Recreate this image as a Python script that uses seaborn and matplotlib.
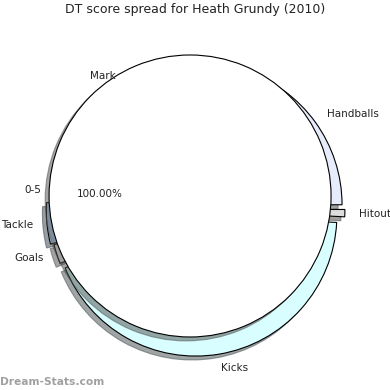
import matplotlib
matplotlib.use("Agg")
import numpy as np
import matplotlib.pyplot as plt
import seaborn as sns

# DT points per stat, in the order the pie walks round (from just under 3 o'clock)
categories = ["Hitout", "Handballs", "Mark", "0-5", "Tackle", "Goals", "Kicks"]
dt_points = [15, 360, 485, 40, 85, 40, 775]
explode = [0.064, 0.054, 0.0, 0.0, 0.054, 0.03, 0.042]
colours = ["#dddddd", "#e6ecfb", "#ffffff", "#ffffff", "#afcdef", "#f2f2f2", "#d8feff"]

# white front disc that covers the middle of the pie
disc_value = [1]

sns.set_theme(style="white")
plt.rcParams["font.family"] = ["DejaVu Sans"]

fig = plt.figure(figsize=(3.9, 3.9), dpi=100)
ax = fig.add_axes([0, 0, 1, 1])

edge = {"edgecolor": "black", "linewidth": 0.8}
txt = {"fontsize": 7.5, "color": "#222222"}

# back pie sits a little down/right of the front disc
shift = 0.1 * np.array([np.cos(np.radians(-70)), np.sin(np.radians(-70))])

ax.pie(dt_points, labels=categories, explode=explode, colors=colours,
       startangle=-3, shadow=True, labeldistance=1.1, center=tuple(shift),
       wedgeprops=edge, textprops=txt)

ax.pie(disc_value, colors=["white"], startangle=-1, shadow=True,
       autopct="%.2f%%", pctdistance=0.64,
       wedgeprops={**edge, "zorder": 2.5}, textprops=txt)

ax.set_xlim(-1.348, 1.418)
ax.set_ylim(-1.376, 1.390)
ax.set_aspect("equal")
ax.axis("off")

fig.text(0.5, 0.975, "DT score spread for Heath Grundy (2010)",
         ha="center", va="center", fontsize=9, color="#222222")
fig.text(0.0, 0.008, "Dream-Stats.com", ha="left", va="bottom",
         fontsize=7.7, fontweight="bold", color="#a0a0a0")

fig.savefig("out.png", dpi=100, facecolor="white")
